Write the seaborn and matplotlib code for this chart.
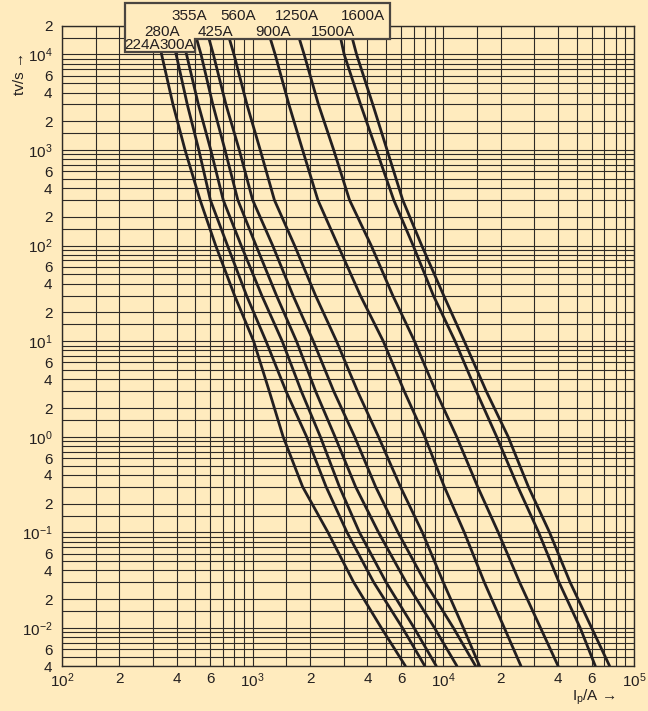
import numpy as np
import pandas as pd
import matplotlib
matplotlib.use('Agg')
import matplotlib.pyplot as plt
from matplotlib.patches import Polygon
from matplotlib.ticker import NullLocator
import seaborn as sns

# time points shared by all curves (s)
times_s = [2e4, 1e4, 3e3, 1e3, 300, 100, 30, 10, 3, 1, 0.3, 0.1, 0.03, 0.01, 0.004]

# prospective current (A) read at each time point, one list per fuse rating
i_224 = [312, 333, 382, 442, 530, 640, 804, 1012, 1222, 1445, 1828, 2483, 3388, 4732, 6324]
i_280 = [361, 397, 454, 522, 600, 738, 929, 1175, 1496, 1919, 2427, 3126, 4315, 6109, 7998]
i_300 = [408, 450, 519, 603, 701, 871, 1117, 1429, 1799, 2265, 2851, 3631, 5012, 7031, 9183]
i_355 = [486, 536, 618, 716, 836, 1042, 1334, 1698, 2138, 2704, 3467, 4571, 6383, 8995, 11780]
i_425 = [565, 622, 724, 851, 1000, 1274, 1629, 2080, 2661, 3428, 4416, 5781, 8035, 11300, 14760]
i_560 = [721, 798, 933, 1096, 1300, 1660, 2138, 2754, 3548, 4571, 5957, 7762, 10000, 12740, 15490]
i_900 = [1180, 1312, 1549, 1828, 2198, 2805, 3673, 4842, 6237, 7998, 10120, 12880, 16410, 20890, 25530]
i_1250 = [1675, 1862, 2213, 2661, 3221, 4188, 5433, 7063, 9120, 11750, 15140, 19410, 25120, 32360, 39990]
i_1500 = [2799, 3020, 3681, 4457, 5495, 6950, 8872, 11530, 14890, 19050, 24600, 31620, 40460, 52240, 62660]
i_1600 = [3199, 3508, 4266, 5070, 6124, 7709, 10050, 12880, 16790, 21880, 27930, 36060, 46240, 59980, 74470]

fuse_labels = ['224A', '280A', '300A', '355A', '425A',
               '560A', '900A', '1250A', '1500A', '1600A']
fuse_currents = [i_224, i_280, i_300, i_355, i_425,
                 i_560, i_900, i_1250, i_1500, i_1600]

grid_mult = [1, 1.5, 2, 3, 4, 5, 6, 7, 8, 9]
label_mult = [2, 4, 6]

BG = '#ffebbe'
INK = '#231f20'
W, H = 648, 711

rows = []
for name, cur in zip(fuse_labels, fuse_currents):
    for i, t in zip(cur, times_s):
        rows.append({'fuse': name, 'current': i, 'time': t})
df = pd.DataFrame(rows)

sns.set_style('white')
plt.rcParams['font.family'] = ['Liberation Sans', 'DejaVu Sans']
plt.rcParams['mathtext.fontset'] = 'custom'
plt.rcParams['mathtext.rm'] = 'Liberation Sans'
plt.rcParams['mathtext.it'] = 'Liberation Sans:italic'
plt.rcParams['text.color'] = INK


def grid_ticks(vmin, vmax):
    vals, labels = [], []
    lo = int(np.floor(np.log10(vmin)))
    hi = int(np.ceil(np.log10(vmax)))
    for e in range(lo, hi + 1):
        for m in grid_mult:
            v = m * 10.0 ** e
            if v < vmin * 0.999 or v > vmax * 1.001:
                continue
            vals.append(v)
            if m == 1:
                labels.append(r'$\mathregular{10^{%d}}$' % e)
            elif m in label_mult:
                labels.append(str(m))
            else:
                labels.append('')
    return vals, labels


fig = plt.figure(figsize=(W / 100, H / 100), dpi=100, facecolor=BG)
ax = fig.add_axes([62 / W, 1 - 666 / H, (634 - 62) / W, (666 - 25.7) / H])
ax.set_facecolor(BG)
ax.set_xscale('log')
ax.set_yscale('log')

sns.lineplot(data=df, x='current', y='time', units='fuse', estimator=None,
             sort=False, color=INK, lw=2.0, ax=ax, zorder=3)

ax.set_xlim(100, 1e5)
ax.set_ylim(4e-3, 2e4)

xv, xl = grid_ticks(100, 1e5)
yv, yl = grid_ticks(4e-3, 2e4)
ax.set_xticks(xv)
ax.set_xticklabels(xl)
ax.set_yticks(yv)
ax.set_yticklabels(yl)
ax.xaxis.set_minor_locator(NullLocator())
ax.yaxis.set_minor_locator(NullLocator())
ax.tick_params(length=0, labelsize=11, labelcolor=INK)
ax.tick_params(axis='y', pad=7)
ax.tick_params(axis='x', pad=4)
ax.grid(True, which='major', color='#2e2a26', lw=0.8)
ax.set_axisbelow(True)
for s in ax.spines.values():
    s.set_color('#2e2a26')
    s.set_linewidth(1.0)
ax.set_xlabel('')
ax.set_ylabel('')

# label box above the plot
box_px = [(125, 3), (390, 3), (390, 39), (195, 39), (195, 52), (125, 52)]
box = Polygon([(x / W, 1 - y / H) for x, y in box_px], closed=True,
              transform=fig.transFigure, facecolor=BG, edgecolor='#4a4540',
              lw=1.6, zorder=5)
fig.add_artist(box)

label_px = {'355A': (189, 15.5), '560A': (238, 15.5), '1250A': (297, 15.5),
            '1600A': (363, 15.5), '280A': (162, 31.5), '425A': (215, 31.5),
            '900A': (273, 31.5), '1500A': (333, 31.5), '224A': (142, 45),
            '300A': (177, 45)}
for name in fuse_labels:
    x, y = label_px[name]
    fig.text(x / W, 1 - y / H, name, ha='center', va='center',
             fontsize=11, zorder=6)

fig.text(20 / W, 1 - 73 / H, 'tv/s \u2192', rotation=90, ha='center',
         va='center', fontsize=11)
fig.text(594 / W, 1 - 697 / H, r'$\mathregular{I_p/A}$' + ' \u2192',
         ha='center', va='center', fontsize=11)

fig.savefig('out.png', dpi=100, facecolor=BG)
